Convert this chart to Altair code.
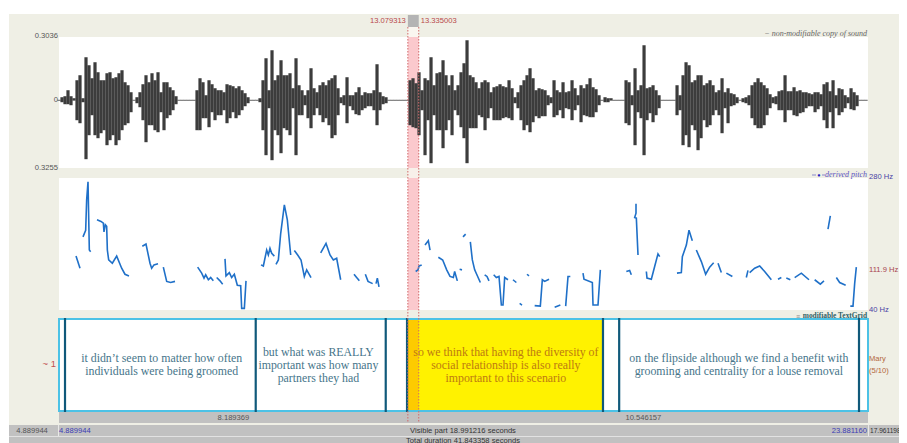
import altair as alt

T0, T1 = 4.889944, 23.88116
SEL0, SEL1 = 13.079313, 13.335003
W_STEP = 0.07043
W_UNIT = 0.0048
W_QUIET = 0.4
WAVE_UP = [
 1,3,4,10,4,2,20,25,2,43,35,22,38,28,20,
 20,27,28,22,23,27,30,18,15,8,1,3,8,16,25,
 18,27,20,28,8,18,18,13,10,4,1,1,1,1,1,
 1,10,22,18,5,20,16,12,10,10,8,16,15,14,12,
 14,10,7,3,1,1,1,2,20,42,10,50,20,25,40,
 25,25,27,12,42,15,10,5,10,32,12,8,15,18,15,
 20,22,25,12,3,5,23,5,5,8,13,5,8,7,7,
 10,36,8,4,3,1,1,1,1,1,1,1,20,22,17,
 28,10,22,20,43,15,27,28,40,25,15,25,10,15,28,
 37,60,25,23,18,12,18,20,18,8,13,14,16,14,13,
 20,12,3,8,15,20,25,32,22,10,12,11,10,5,3,
 20,10,8,18,8,9,20,12,5,15,12,16,22,13,11,
 5,1,3,2,2,1,1,1,1,20,18,5,32,10,15,
 55,12,13,15,10,5,1,1,1,1,1,15,5,25,38,
 35,18,20,25,25,15,17,20,15,8,10,22,8,12,7,
 6,3,1,2,3,5,15,18,22,18,15,12,6,3,4,
 9,10,25,9,9,13,9,10,8,8,7,6,8,8,6,
 16,18,9,20,5,12,11,5,3,12,8,5,1,1,1]
WAVE_DOWN = [
 1,2,4,4,5,1,20,23,2,59,35,15,35,38,33,
 30,45,40,35,45,40,30,25,23,12,1,3,7,20,42,
 25,25,30,32,12,30,18,15,10,4,1,1,1,1,1,
 1,30,30,18,18,27,12,20,15,15,10,23,18,12,18,
 15,10,6,3,1,1,1,2,30,55,8,60,30,35,53,
 28,30,35,8,55,15,15,5,18,28,15,8,15,22,18,
 25,38,35,15,3,5,23,6,10,14,15,10,8,6,6,
 10,25,10,4,3,1,1,1,1,1,1,1,25,27,28,
 35,10,55,20,63,15,30,30,48,30,20,35,10,15,27,
 38,63,28,28,28,15,17,30,18,8,20,20,20,18,17,
 18,20,3,8,20,30,25,32,22,16,18,16,16,5,3,
 17,15,10,18,8,9,20,10,5,22,15,16,17,17,12,
 5,1,2,2,1,1,1,1,1,23,25,5,45,12,18,
 55,20,13,22,15,8,1,1,1,1,1,15,10,45,35,
 47,25,30,50,38,20,27,25,15,10,15,33,8,23,6,
 5,3,1,2,3,5,18,25,28,28,25,15,8,3,4,
 10,10,22,10,10,15,16,13,12,8,6,6,12,9,6,
 20,28,12,28,8,15,12,8,3,9,10,6,1,1,1]

PITCH_SEGMENTS = [
 ([5.289,5.383],[138,116]),
 ([5.453,5.516,5.539,5.571,5.602,5.633],[173,185,240,273,149,146]),
 ([5.782,5.876,5.931,5.946,5.978,6.009,6.025,6.056,6.142,6.244,6.361,6.439,6.533],[204,201,198,182,195,192,149,131,125,138,116,105,102]),
 ([6.846,6.932,7.026,7.065,7.120,7.214],[156,160,125,116,122,124]),
 ([7.339,7.418,7.511,7.613],[118,92,90,92]),
 ([8.145,8.239,8.294,8.333,8.396,8.450,8.513],[118,107,98,104,95,99,93]),
 ([8.591,8.670,8.732],[99,93,87]),
 ([8.787,8.810,8.889,8.943,9.006,9.076,9.155,9.178,9.241,9.280],[133,102,108,99,105,85,84,43,43,93]),
 ([9.632,9.687,9.765,9.804,9.843,9.883,9.945],[122,120,149,140,152,143,138]),
 ([9.984,10.039,10.094,10.180,10.250,10.329],[123,131,179,231,204,140]),
 ([10.415,10.493,10.571,10.649,10.704,10.806],[148,140,131,101,113,99]),
 ([11.033,11.158,11.252,11.330,11.408,11.502],[144,161,140,131,134,95]),
 ([11.815,11.940],[105,93]),
 ([12.081,12.144,12.253],[105,92,88]),
 ([12.332,12.363,12.402],[88,98,82]),
 ([13.263,13.318,13.341,13.404],[110,113,120,122]),
 ([13.482,13.560,13.600],[158,166,149]),
 ([13.795,13.897,13.991,14.069,14.147,14.178,14.241],[136,131,113,101,99,110,93]),
 ([14.295,14.350],[114,113]),
 ([14.374,14.436],[173,178]),
 ([14.546,14.593,14.648,14.781],[164,131,113,90]),
 ([14.882,14.937,14.984],[104,101,93]),
 ([15.094,15.156,15.219,15.274,15.313,15.352,15.430],[104,99,101,49,49,99,95]),
 ([15.547,15.626],[95,90]),
 ([15.876,15.923],[105,102]),
 ([15.704,15.759],[52,49]),
 ([16.056,16.189,16.236,16.291,16.393],[48,47,95,92,96]),
 ([16.526,16.659],[45,49]),
 ([16.784,16.839,16.893],[47,101,101]),
 ([17.191,17.214,17.410,17.426,17.543,17.598],[107,96,90,49,49,113]),
 ([18.208,18.286,18.325],[110,112,104]),
 ([18.678,18.693,18.795,18.873,18.951,18.991],[110,98,96,119,142,137]),
 ([18.435,18.435,18.404,18.443,18.482],[233,216,208,207,140]),
 ([19.397,19.499,19.523,19.617,19.679,19.757],[107,108,137,158,185,166]),
 ([19.851,19.969,20.070,20.164,20.258],[149,128,105,118,126]),
 ([20.360,20.438],[125,108]),
 ([20.556,20.697],[107,101]),
 ([21.025,21.064],[99,112]),
 ([21.103,21.221,21.338,21.455,21.612],[108,116,120,110,95]),
 ([21.768,21.847],[96,99]),
 ([21.964,22.058],[98,95]),
 ([22.160,22.316,22.496],[99,107,95]),
 ([22.629,22.762,22.848],[95,87,93]),
 ([22.942,22.997],[187,211]),
 ([23.138,23.216,23.357],[99,90,85]),
 ([23.466,23.529,23.568,23.607],[47,47,88,118]),
]

BOUNDARIES = [5.031, 9.508, 12.56, 13.06, 17.66, 18.04, 23.67]
INTERVALS = [
 (5.031, 9.508, 7.30, ["it didn’t seem to matter how often", "individuals were being groomed"], "#46758a"),
 (9.508, 12.56, 10.98, ["but what was REALLY", "important was how many", "partners they had"], "#46758a"),
 (13.06, 17.66, 15.38, ["so we think that having the diversity of", "social relationship is also really", "important to this scenario"], "#bd7a12"),
 (18.04, 23.67, 20.85, ["on the flipside although we find a benefit with", "grooming and centrality for a louse removal"], "#46758a"),
]

BG, GREY, RED, BLUE = "#efefe5", "#c1c1c1", "#b8474a", "#3c3cb4"
HEIGHT = 435
WIDTH = 891
XS = alt.Scale(domain=[T0, T1], range=[51, 860], nice=False, zero=False)
X = alt.X("t:Q", scale=XS, axis=None)
WS = alt.Scale(domain=[-0.3255, 0.3036], range=[160, 29], nice=False, zero=False)
PS = alt.Scale(domain=[40, 280], range=[302, 170], nice=False, zero=False)

def box(px0, px1, py0, py1, color):
    return alt.Chart(alt.Data(values=[{}])).mark_rect(color=color).encode(
        x=alt.value(px0), x2=alt.value(px1), y=alt.value(py0), y2=alt.value(py1))

def tbox(t0, t1, py0, py1, color):
    return alt.Chart(alt.Data(values=[{"t": t0, "e": t1}])).mark_rect(color=color).encode(
        x=X, x2="e:Q", y=alt.value(py0), y2=alt.value(py1))

def label(s, px, py, align="left", color="#555555", size=7.6, font="Liberation Sans", **kw):
    return alt.Chart(alt.Data(values=[{}])).mark_text(
        text=s, align=align, baseline="middle", color=color, fontSize=size, font=font, **kw
    ).encode(x=alt.value(px), y=alt.value(py))

def tlabel(s, t, py, align="center", color="#555555", size=7.6, font="Liberation Sans", **kw):
    return alt.Chart(alt.Data(values=[{"t": t}])).mark_text(
        text=s, align=align, baseline="middle", color=color, fontSize=size, font=font, **kw
    ).encode(x=X, y=alt.value(py))

layers = [
    box(1, WIDTH, 6, HEIGHT, BG),
    tbox(T0, T1, 29, 160, "#ffffff"),
    tbox(T0, T1, 170, 302, "#ffffff"),
    tbox(T0, T1, 311, 403, "#ffffff"),
    tbox(SEL0, SEL1, 19, 29, "#faf6f0"),
    tbox(SEL0, SEL1, 160, 170, "#f8f0ea"),
    tbox(SEL0, SEL1, 29, 160, "#fbc9cd"),
    tbox(SEL0, SEL1, 170, 302, "#fbc9cd"),
    tbox(SEL0, SEL1, 7, 19, "#b4b4b4"),
    tbox(13.06, 17.66, 311, 403, "#fff200"),
    tbox(13.06, SEL1, 311, 403, "#fdcb00"),
]

wave = [{"t": T0 + i * W_STEP,
         "hi": (u if u > 1 else W_QUIET) * W_UNIT,
         "lo": -(d if d > 1 else W_QUIET) * W_UNIT}
        for i, (u, d) in enumerate(zip(WAVE_UP, WAVE_DOWN))]
layers.append(alt.Chart(alt.Data(values=wave)).mark_rule(color="#3c3c3c", strokeWidth=3.2).encode(
    x=X, y=alt.Y("hi:Q", scale=WS, axis=None), y2="lo:Q"))

pitch = []
for k, (ts, hz) in enumerate(PITCH_SEGMENTS):
    for i, (t, h) in enumerate(zip(ts, hz)):
        pitch.append({"t": t, "hz": h, "seg": k, "i": i})
layers.append(alt.Chart(alt.Data(values=pitch)).mark_line(color="#1f70c8", strokeWidth=1.6).encode(
    x=X, y=alt.Y("hz:Q", scale=PS, axis=None), detail="seg:N", order="i:Q"))

# TextGrid frame and boundaries
layers.append(alt.Chart(alt.Data(values=[{"t": T0, "e": T1}])).mark_rect(
    fill=None, stroke="#4cc2e6", strokeWidth=2).encode(x=X, x2="e:Q", y=alt.value(311), y2=alt.value(403)))
layers.append(alt.Chart(alt.Data(values=[{"t": b} for b in BOUNDARIES])).mark_rule(
    color="#10597a", strokeWidth=2.2).encode(x=X, y=alt.value(310), y2=alt.value(404)))

ROWS = {2: [350, 363], 3: [343.5, 356.5, 370]}
for t0, t1, mid, lines, col in INTERVALS:
    for line, py in zip(lines, ROWS[len(lines)]):
        layers.append(tlabel(line, mid, py, color=col, size=11.85, font="Liberation Serif"))

# bottom bars
layers += [
    box(51, 860, 404, 415, GREY),
    box(1, WIDTH, 417, 428, GREY),
    box(1, WIDTH, 429, HEIGHT, GREY),
    box(1, WIDTH, 428, 429, "#e2e2e2"),
    box(50, 51, 417, 428, "#e8e8e8"),
    box(860, 861, 417, 428, "#e8e8e8"),
]
layers.append(alt.Chart(alt.Data(values=[{"t": SEL0, "e": SEL1}])).mark_rule(
    color="#d06a6a", strokeWidth=1, strokeDash=[1.5, 1.5]).encode(x=X, y=alt.value(19), y2=alt.value(415)))
layers.append(alt.Chart(alt.Data(values=[{"t": SEL1}])).mark_rule(
    color="#d06a6a", strokeWidth=1, strokeDash=[1.5, 1.5]).encode(x=X, y=alt.value(19), y2=alt.value(415)))
layers.append(tlabel("8.189369", (T0 + SEL0) / 2, 410))
layers.append(tlabel("10.546157", (SEL1 + T1) / 2, 410))

# labels
layers += [
    tlabel("13.079313", SEL0, 12.5, align="right", color=RED, dx=-2),
    tlabel("13.335003", SEL1, 12.5, align="left", color=RED, dx=2),
    label("0.3036", 50, 28, align="right"),
    label("0", 50, 92, align="right"),
    label("0.3255", 50, 160, align="right"),
    label("− non-modifiable copy of sound", 859, 26, align="right", size=8, font="Liberation Serif", fontStyle="italic", color="#666666"),
    label("derived pitch", 859, 167, align="right", color="#5a4fc0", font="Liberation Serif", fontStyle="italic", size=8),
    label("●", 811, 167, align="center", color="#2020c0", size=5.5),
    box(804, 808, 166.5, 167.5, "#8888cc"),
    box(814, 817, 166.5, 167.5, "#8888cc"),
    label("280 Hz", 861, 169, color="#4a3fa4"),
    label("111.9 Hz", 861, 262, color="#a8434f"),
    label("40 Hz", 861, 302, color="#4a3fa4"),
    label("≡", 788, 309, color="#888888", size=7),
    label("modifiable TextGrid", 859, 308, align="right", font="Liberation Serif", fontWeight="bold", color="#2f5f66", size=7.4),
    label("~ 1", 48, 356, align="right", color="#c25050", size=9.5),
    label("Mary", 861, 351, color="#b3663c"),
    label("(5/10)", 861, 363, color="#b3663c"),
    label("4.889944", 24, 422.5, align="center"),
    label("4.889944", 51, 422.5, color=BLUE),
    label("Visible part 18.991216 seconds", 455, 422.5, align="center", color="#333333"),
    label("23.881160", 859, 422.5, align="right", color=BLUE),
    label("17.961198", 862, 422.5, color="#333333", size=6.6),
    label("Total duration 41.843358 seconds", 455, 433, align="center", color="#333333"),
]

chart = alt.layer(*layers).resolve_scale(y="independent").properties(
    width=WIDTH, height=HEIGHT, padding=0, autosize=alt.AutoSizeParams(type="none"),
    background="#ffffff"
).configure_view(stroke=None)

chart.save("out.html", embed_options={"renderer": "svg", "actions": False})
